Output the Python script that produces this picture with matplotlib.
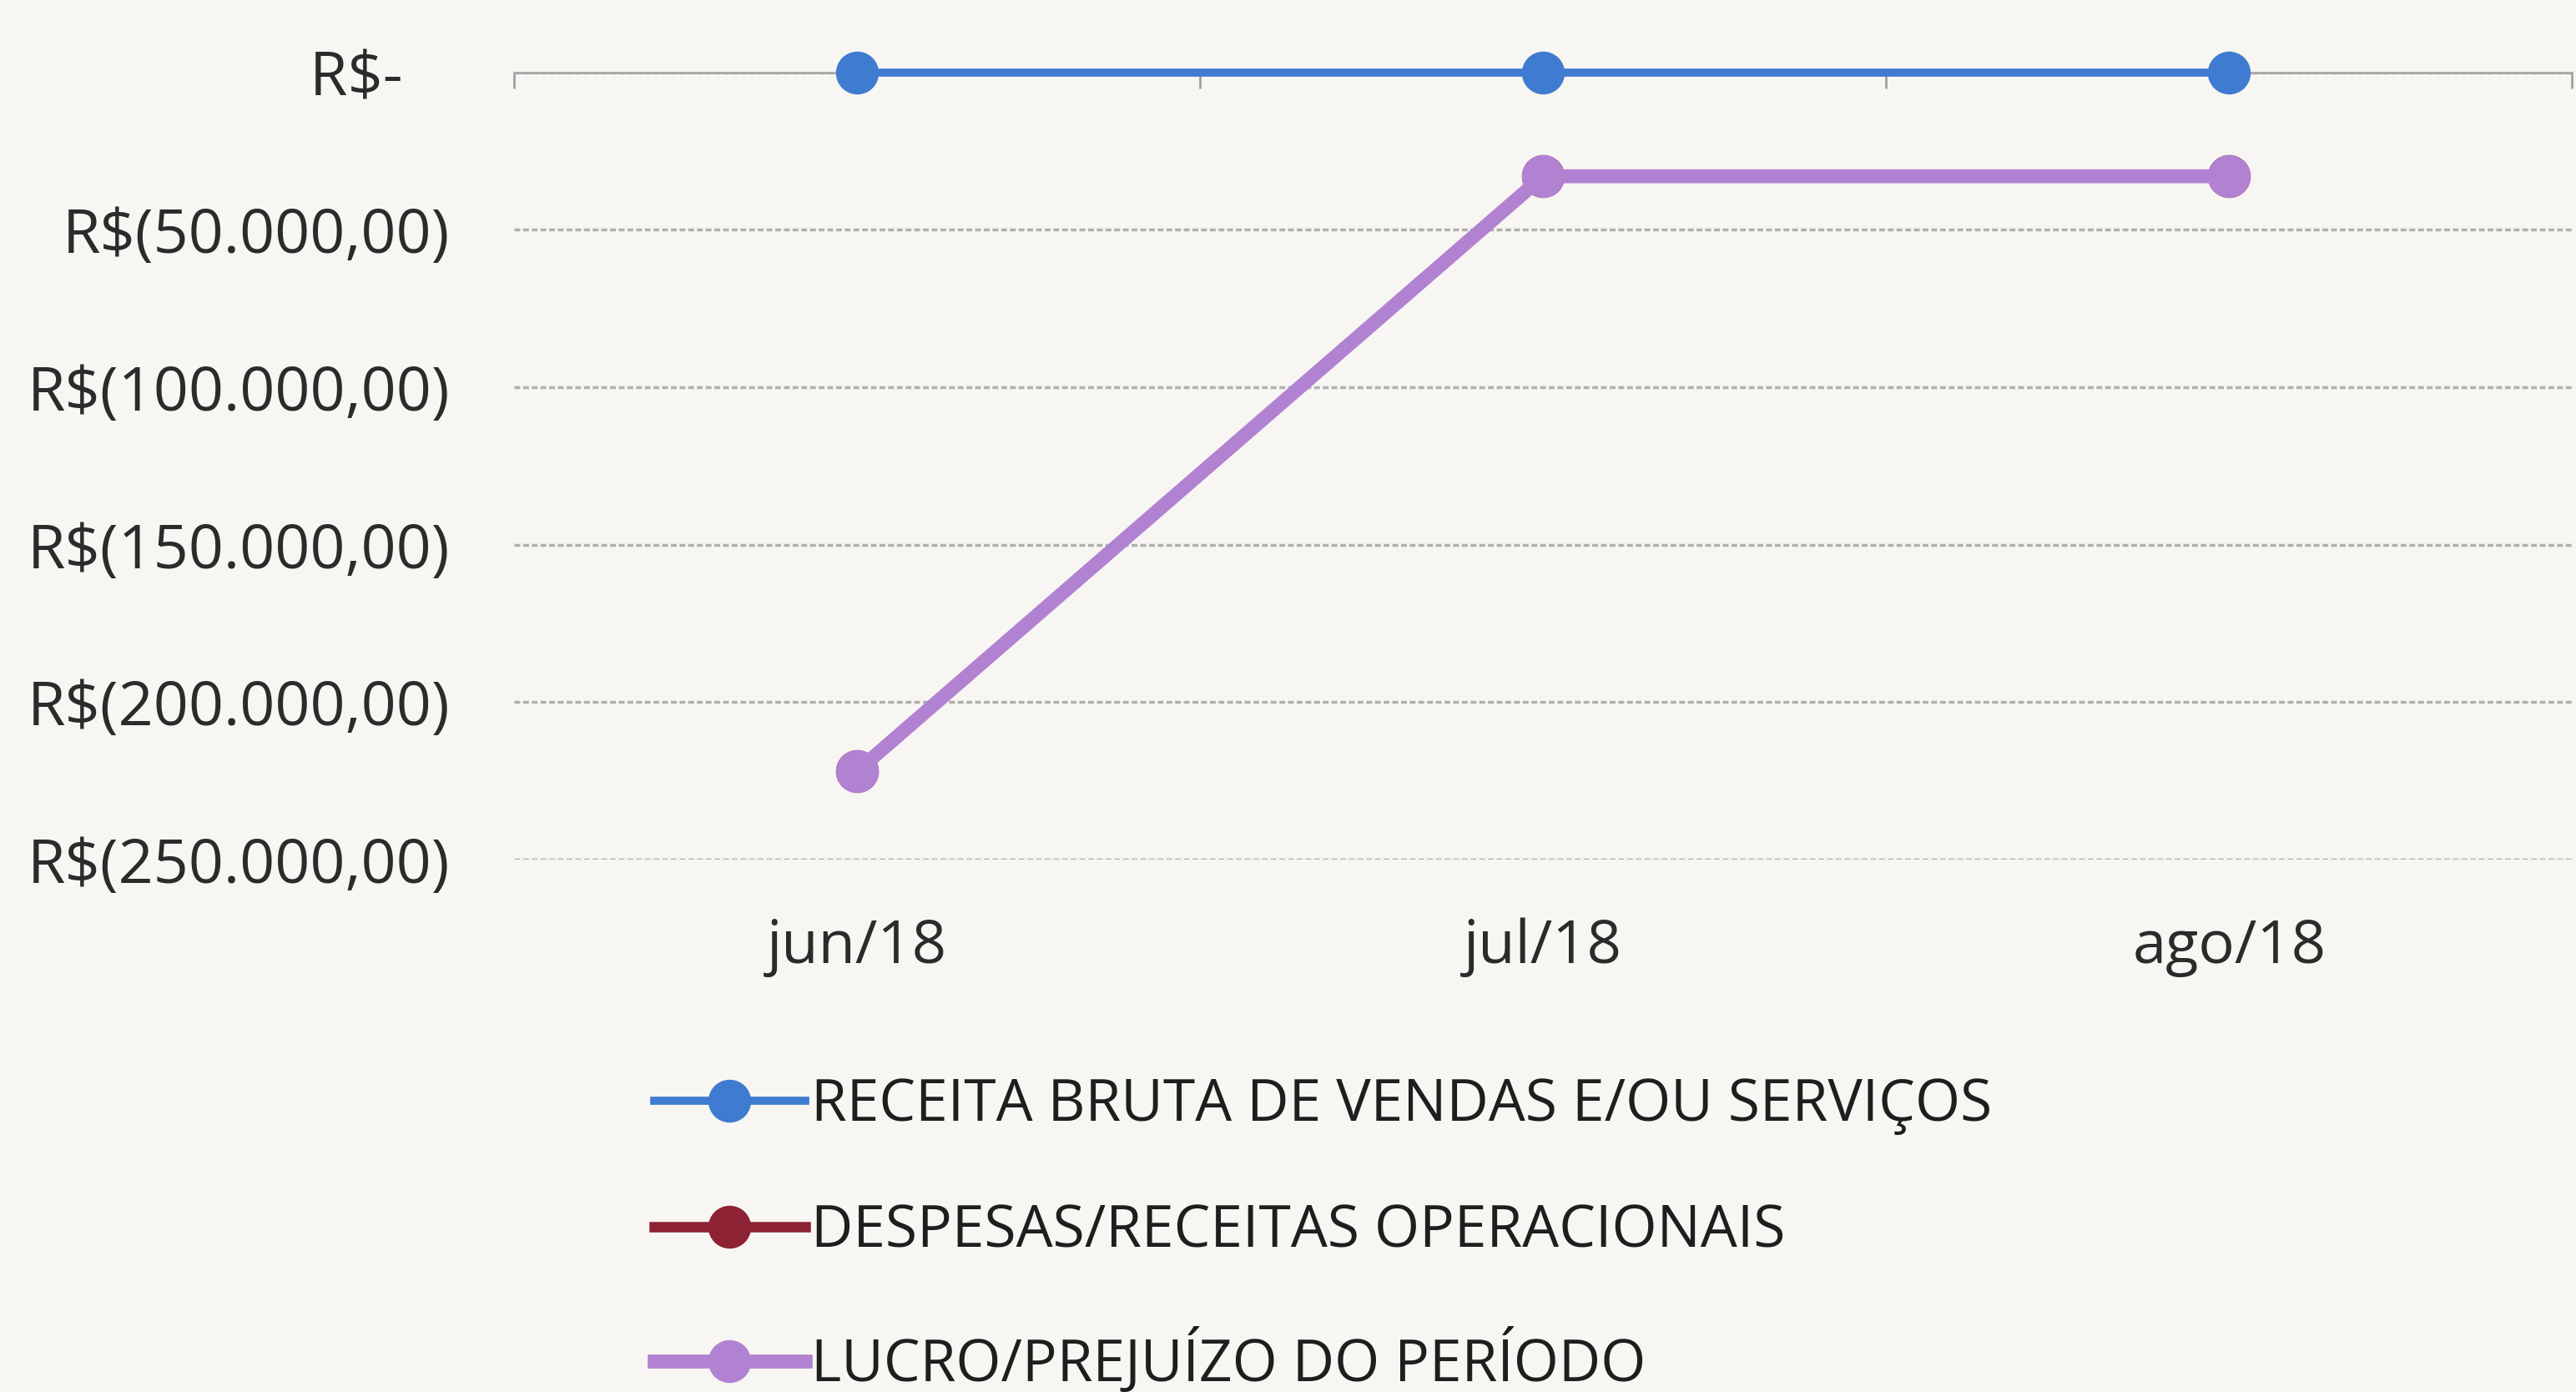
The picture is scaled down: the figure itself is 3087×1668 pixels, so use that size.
import matplotlib
matplotlib.use("Agg")
import matplotlib.pyplot as plt
from matplotlib.ticker import FixedLocator

# ---- data ----
categories = ["jun/18", "jul/18", "ago/18"]
receita_bruta = [0, 0, 0]
despesas_receitas = [-222000, -33000, -33000]
lucro_prejuizo = [-222000, -33000, -33000]
series_names = ["RECEITA BRUTA DE VENDAS E/OU SERVIÇOS",
                "DESPESAS/RECEITAS OPERACIONAIS",
                "LUCRO/PREJUÍZO DO PERÍODO"]
y_ticks = [0, -50000, -100000, -150000, -200000, -250000]
y_tick_labels = ["R$-   ", "R$(50.000,00)", "R$(100.000,00)", "R$(150.000,00)",
                 "R$(200.000,00)", "R$(250.000,00)"]

# ---- style ----
bg = "#f8f6f3"
font = ["Open Sans", "DejaVu Sans"]
plt.rcParams['font.family'] = font

fig = plt.figure(figsize=(30.87, 16.68), dpi=100, facecolor=bg)
ax = fig.add_axes([0.1995, 0.3825, 0.799, 0.5655], facecolor=bg)

x = list(range(len(categories)))
ax.plot(x, receita_bruta, color="#3f7bd0", lw=7, marker="o", ms=36,
        label=series_names[0], zorder=4, clip_on=False)
ax.plot(x, despesas_receitas, color="#8c2233", lw=9, marker="o", ms=36,
        label=series_names[1], zorder=3, clip_on=False)
ax.plot(x, lucro_prejuizo, color="#b282d2", lw=12, marker="o", ms=36,
        label=series_names[2], zorder=5, clip_on=False)

ax.set_xlim(-0.5, len(categories) - 0.5)
ax.set_ylim(-250000, 0)
ax.set_yticks(y_ticks)
ax.set_yticklabels(y_tick_labels, fontsize=53, color="#2b2b2b")
ax.tick_params(axis='y', length=0, pad=55)
ax.set_xticks(x)
ax.set_xticklabels(categories, fontsize=52, color="#2b2b2b")
ax.tick_params(axis='x', which='major', length=0, pad=50)
ax.grid(axis='y', color="#b0b0b0", lw=2.5, ls=(0, (2, 1)))
ax.set_axisbelow(True)
for s in ["left", "right", "bottom", "top"]:
    ax.spines[s].set_visible(False)

# category boundary ticks on the zero line
ax.xaxis.set_minor_locator(FixedLocator([-0.5, 0.5, 1.5, 2.5]))
ax.tick_params(axis='x', which='minor', top=True, bottom=False, direction='in',
               length=14, width=2, color="#a0a0a0")
ax.spines["top"].set_visible(True)
ax.spines["top"].set_color("#a8a8a8")
ax.spines["top"].set_linewidth(2)

leg = fig.legend(loc="upper left", bbox_to_anchor=(0.245, 0.243),
                 frameon=False, fontsize=50, handlelength=2.6,
                 handletextpad=0.1, labelspacing=1.17, borderaxespad=0)
for t in leg.get_texts():
    t.set_color("#1e1e1e")

fig.savefig("out.png", dpi=100, facecolor=bg)
